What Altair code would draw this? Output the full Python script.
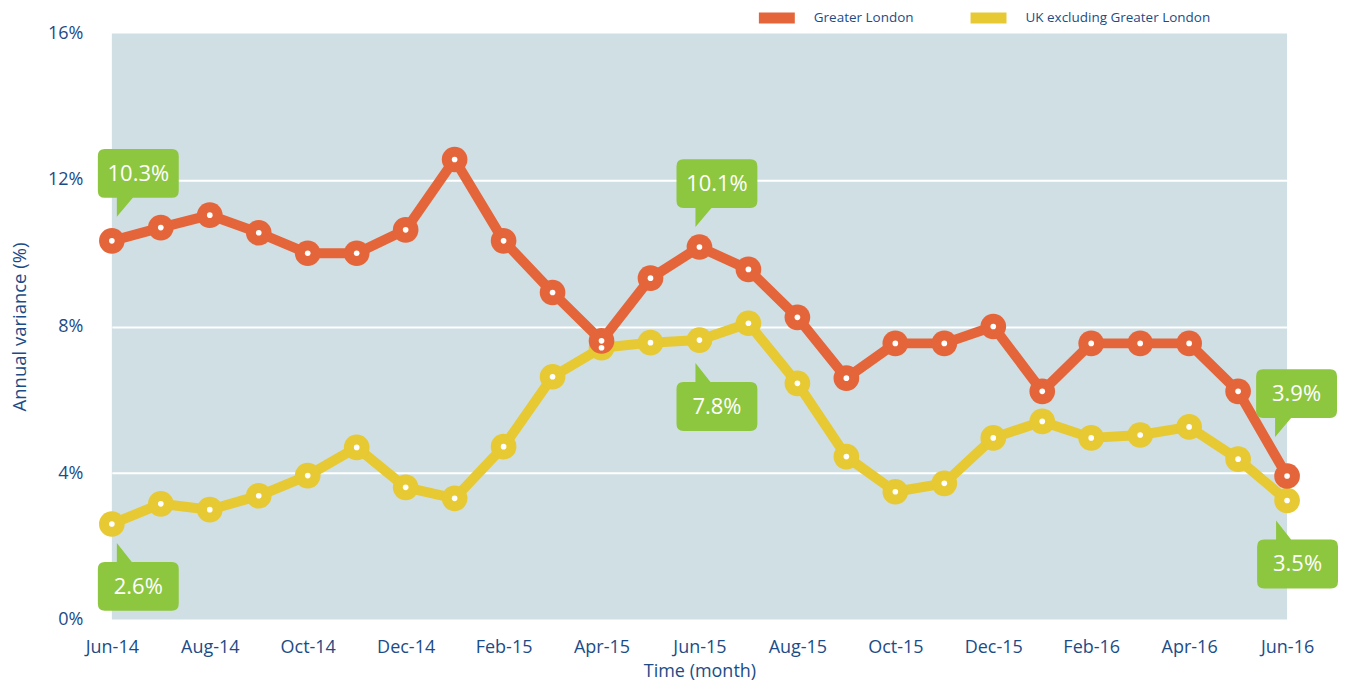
import altair as alt
import pandas as pd

months = ["Jun-14", "Jul-14", "Aug-14", "Sep-14", "Oct-14", "Nov-14", "Dec-14",
          "Jan-15", "Feb-15", "Mar-15", "Apr-15", "May-15", "Jun-15", "Jul-15",
          "Aug-15", "Sep-15", "Oct-15", "Nov-15", "Dec-15", "Jan-16", "Feb-16",
          "Mar-16", "Apr-16", "May-16", "Jun-16"]
london = [10.34, 10.7, 11.04, 10.56, 10.0, 10.0, 10.64, 12.56, 10.34, 8.93, 7.61,
          9.32, 10.17, 9.56, 8.25, 6.59, 7.54, 7.54, 8.0, 6.23, 7.54, 7.54, 7.54,
          6.23, 3.92]
uk_ex = [2.61, 3.16, 3.0, 3.38, 3.93, 4.70, 3.61, 3.31, 4.72, 6.63, 7.42, 7.56,
         7.63, 8.09, 6.45, 4.45, 3.49, 3.72, 4.96, 5.41, 4.96, 5.04, 5.26, 4.38,
         3.25]
series_names = ["Greater London", "UK excluding Greater London"]
x_tick_labels = months[::2]
y_ticks = [0, 4, 8, 12, 16]

callout_months = ["Jun-14", "Jun-14", "Jun-15", "Jun-15", "Jun-16", "Jun-16"]
callout_values = [10.34, 2.61, 10.17, 7.63, 3.92, 3.25]
callout_labels = ["10.3%", "2.6%", "10.1%", "7.8%", "3.9%", "3.5%"]

ORANGE = "#E5653A"
YELLOW = "#E6C933"
GREEN = "#8DC63F"
BG = "#D0DFE4"
NAVY = "#1B4C87"
FONT = "Open Sans"

df = pd.DataFrame({
    "month": months * 2,
    "value": london + uk_ex,
    "series": [series_names[0]] * len(months) + [series_names[1]] * len(months),
})

x_enc = alt.X("month:O", sort=months,
              scale=alt.Scale(type="point", padding=0),
              axis=alt.Axis(values=x_tick_labels, labelAngle=0, title="Time (month)",
                            domain=False, ticks=False, labelPadding=19,
                            labelFontSize=18, labelColor=NAVY, labelFont=FONT,
                            titleFont=FONT, titleFontSize=18, titleColor=NAVY,
                            titleFontWeight="normal", titlePadding=6, grid=False))
y_enc = alt.Y("value:Q", scale=alt.Scale(domain=[0, 16], nice=False),
              axis=alt.Axis(values=y_ticks, labelExpr="datum.value + '%'",
                            title="Annual variance (%)", domain=False, ticks=False,
                            labelPadding=29, labelFontSize=18, labelColor=NAVY,
                            labelFont=FONT, titleFont=FONT, titleFontSize=18.5,
                            titleColor=NAVY, titleFontWeight="normal", titlePadding=18,
                            gridColor="white", gridWidth=2,
                            gridOpacity={"condition": {"test": "datum.value == 0 || datum.value == 16", "value": 0}, "value": 1}))

color = alt.Color("series:N", scale=alt.Scale(domain=series_names, range=[ORANGE, YELLOW]),
                  legend=alt.Legend(title=None, orient="none", direction="horizontal",
                                    legendX=657, legendY=-24.5,
                                    symbolType="M-5.14,0H5.14",
                                    symbolSize=49, symbolStrokeWidth=11, symbolOpacity=1,
                                    labelOffset=28, labelFontSize=13.5, labelColor=NAVY,
                                    labelFont=FONT, labelLimit=400, columnPadding=35,
                                    padding=0))

base = alt.Chart(df)
lines = base.mark_line(strokeWidth=10, strokeJoin="round").encode(x=x_enc, y=y_enc, color=color)
yellow_pts = base.transform_filter(alt.datum.series == series_names[1]).mark_circle(
    size=660, opacity=1, color=YELLOW).encode(x=x_enc, y=y_enc)
orange_pts = base.transform_filter(alt.datum.series == series_names[0]).mark_circle(
    size=660, opacity=1, color=ORANGE).encode(x=x_enc, y=y_enc)
dots = base.mark_circle(size=32, opacity=1, color="white").encode(x=x_enc, y=y_enc)

ABOVE = ("M0,0 L0,-19 L-12,-19 Q-19,-19 -19,-26 L-19,-61 Q-19,-68 -12,-68 "
         "L55,-68 Q62,-68 62,-61 L62,-26 Q62,-19 55,-19 L16,-19 Z")
BELOW = ("M0,0 L0,19 L-12,19 Q-19,19 -19,26 L-19,61 Q-19,68 -12,68 "
         "L55,68 Q62,68 62,61 L62,26 Q62,19 55,19 L15,19 Z")
# tip offsets from each anchored point (style), above/below
offsets = [(5, -24, True), (5, 19, False), (-4, -20, True), (-4, 23, False),
           (-12, -39, True), (-11, 20, False)]

callout_layers = []
for i, (dx, dy, above) in enumerate(offsets):
    cdf = pd.DataFrame({"month": [callout_months[i]], "value": [callout_values[i]],
                        "label": [callout_labels[i]]})
    cb = alt.Chart(cdf)
    box = cb.mark_point(shape=ABOVE if above else BELOW, size=4, filled=True,
                        fill=GREEN, strokeWidth=0, opacity=1,
                        xOffset=dx, yOffset=dy).encode(x=x_enc, y=y_enc)
    txt = cb.mark_text(font=FONT, fontSize=22, color="white", align="center",
                       baseline="middle", xOffset=dx + 21.5,
                       yOffset=dy + (-43 if above else 44)).encode(
        x=x_enc, y=y_enc, text="label:N")
    callout_layers += [box, txt]

chart = alt.layer(lines, yellow_pts, orange_pts, dots, *callout_layers).properties(
    width=1177, height=587,
    padding={"left": 2, "top": 0, "right": 0, "bottom": 0}
).configure_view(fill=BG, stroke=None)

chart.save("out.html", embed_options={"renderer": "svg", "actions": False})
